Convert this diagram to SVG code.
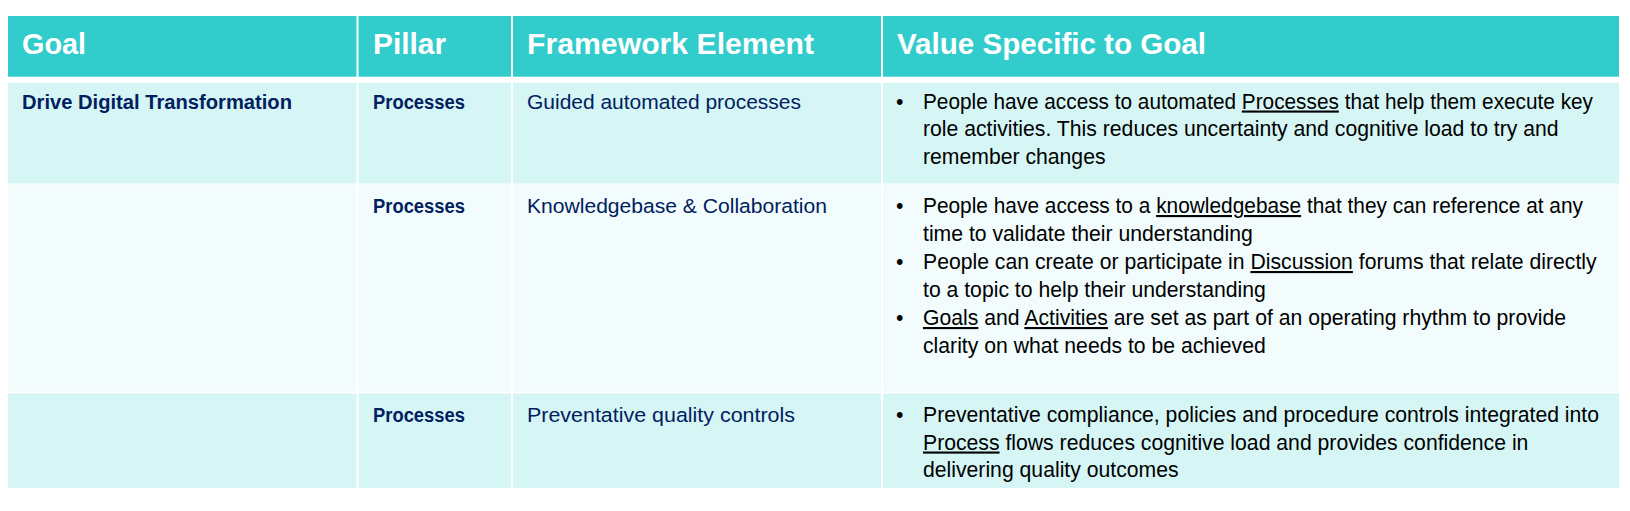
<svg xmlns="http://www.w3.org/2000/svg" width="1630" height="511" viewBox="0 0 1630 511">
  <style>
    .hdr { fill: #33CCCC; }
    .rowA { fill: #D6F5F5; }
    .rowB { fill: #F2FCFC; }
    .sep { stroke: #FFFFFF; stroke-width: 2; }
    .th { font-family: "Liberation Sans", Arial, sans-serif; font-weight: bold; font-size: 29.5px; fill: #FFFFFF; }
    .tb { font-family: "Liberation Sans", Arial, sans-serif; font-weight: bold; font-size: 19.5px; fill: #002060; }
    .tn { font-family: "Liberation Sans", Arial, sans-serif; font-size: 20.5px; fill: #002060; }
    .tv { font-family: "Liberation Sans", Arial, sans-serif; font-size: 21.2px; fill: #000000; }
    .u { text-decoration: underline; }
  </style>
  <rect x="0" y="0" width="1630" height="511" fill="#FFFFFF"/>

  <g id="header">
    <rect class="hdr" x="8" y="16" width="1611" height="60.7"/>
    <text class="th" x="22" y="54" textLength="64" lengthAdjust="spacingAndGlyphs">Goal</text>
    <text class="th" x="373" y="54" textLength="73" lengthAdjust="spacingAndGlyphs">Pillar</text>
    <text class="th" x="527" y="54" textLength="287" lengthAdjust="spacingAndGlyphs">Framework Element</text>
    <text class="th" x="897" y="54" textLength="309" lengthAdjust="spacingAndGlyphs">Value Specific to Goal</text>
  </g>

  <g id="row1">
    <rect class="rowA" x="8" y="82.7" width="1611" height="100.8"/>
    <text class="tb" x="22" y="108.5" textLength="270" lengthAdjust="spacingAndGlyphs">Drive Digital Transformation</text>
    <text class="tb" x="373" y="108.5" textLength="92" lengthAdjust="spacingAndGlyphs">Processes</text>
    <text class="tn" x="527" y="108.5" textLength="274" lengthAdjust="spacingAndGlyphs">Guided automated processes</text>
    <g class="tv">
      <text x="896" y="108.5">•</text>
      <text x="923" y="108.5" textLength="670" lengthAdjust="spacingAndGlyphs">People have access to automated <tspan class="u">Processes</tspan> that help them execute key</text>
      <text x="923" y="136">role activities. This reduces uncertainty and cognitive load to try and</text>
      <text x="923" y="163.5">remember changes</text>
    </g>
  </g>

  <g id="row2">
    <rect class="rowB" x="8" y="184.5" width="1611" height="207"/>
    <text class="tb" x="373" y="213" textLength="92" lengthAdjust="spacingAndGlyphs">Processes</text>
    <text class="tn" x="527" y="213" textLength="300" lengthAdjust="spacingAndGlyphs">Knowledgebase &amp; Collaboration</text>
    <g class="tv">
      <text x="896" y="213">•</text>
      <text x="923" y="213" textLength="660" lengthAdjust="spacingAndGlyphs">People have access to a <tspan class="u">knowledgebase</tspan> that they can reference at any</text>
      <text x="923" y="241">time to validate their understanding</text>
      <text x="896" y="269">•</text>
      <text x="923" y="269">People can create or participate in <tspan class="u">Discussion</tspan> forums that relate directly</text>
      <text x="923" y="297">to a topic to help their understanding</text>
      <text x="896" y="325">•</text>
      <text x="923" y="325"><tspan class="u">Goals</tspan> and <tspan class="u">Activities</tspan> are set as part of an operating rhythm to provide</text>
      <text x="923" y="353">clarity on what needs to be achieved</text>
    </g>
  </g>

  <g id="row3">
    <rect class="rowA" x="8" y="393.5" width="1611" height="94.5"/>
    <text class="tb" x="373" y="422" textLength="92" lengthAdjust="spacingAndGlyphs">Processes</text>
    <text class="tn" x="527" y="422" textLength="268" lengthAdjust="spacingAndGlyphs">Preventative quality controls</text>
    <g class="tv">
      <text x="896" y="422">•</text>
      <text x="923" y="422">Preventative compliance, policies and procedure controls integrated into</text>
      <text x="923" y="449.5"><tspan class="u">Process</tspan> flows reduces cognitive load and provides confidence in</text>
      <text x="923" y="477">delivering quality outcomes</text>
    </g>
  </g>

  <g id="grid-lines">
    <line class="sep" x1="357.5" y1="16" x2="357.5" y2="488"/>
    <line class="sep" x1="512" y1="16" x2="512" y2="488"/>
    <line class="sep" x1="882" y1="16" x2="882" y2="488"/>
  </g>
</svg>
